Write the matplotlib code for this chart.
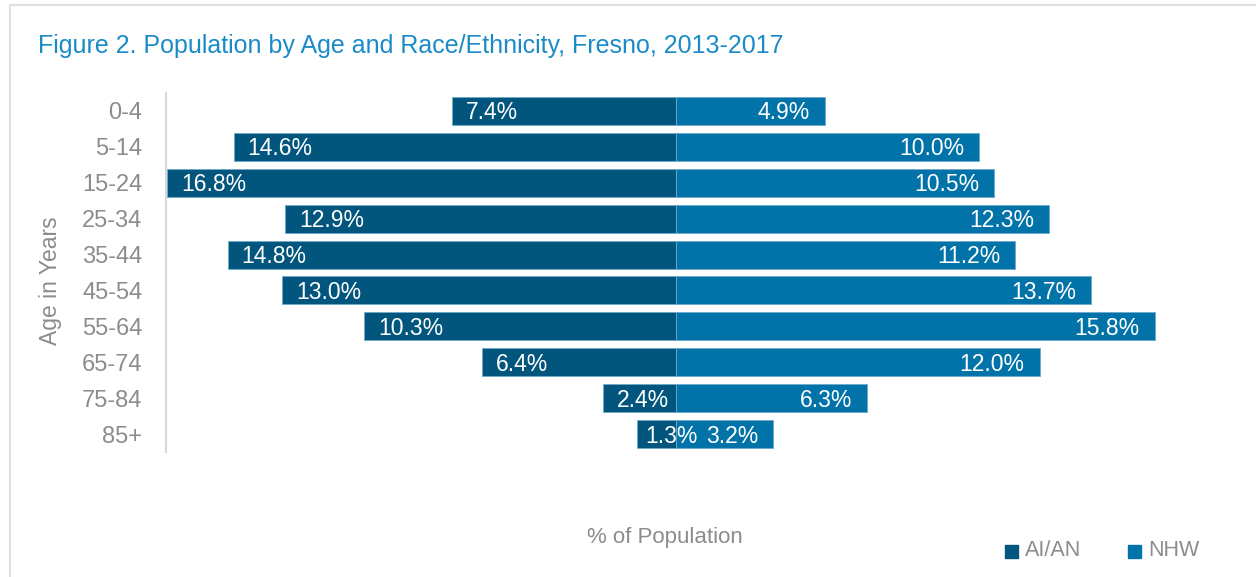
import matplotlib
matplotlib.use("Agg")
import matplotlib.pyplot as plt
from matplotlib.patches import Rectangle

age_groups = ["0-4", "5-14", "15-24", "25-34", "35-44", "45-54", "55-64", "65-74", "75-84", "85+"]
aian = [7.4, 14.6, 16.8, 12.9, 14.8, 13.0, 10.3, 6.4, 2.4, 1.3]
nhw = [4.9, 10.0, 10.5, 12.3, 11.2, 13.7, 15.8, 12.0, 6.3, 3.2]
series_names = ["AI/AN", "NHW"]

C_AIAN = "#02567D"
C_NHW = "#0173A8"
EDGE = "#6FA9CB"
GRAY = "#8C8C8C"
plt.rcParams["font.family"] = ["Liberation Sans", "DejaVu Sans"]

fig = plt.figure(figsize=(12.56, 5.77), dpi=100)
W, H = 1256, 577

# outer frame
fig.patches.append(Rectangle((10 / W, -0.1), 1.2, 1 - 5 / H + 0.1, transform=fig.transFigure,
                             fill=False, edgecolor="#E0E0E0", linewidth=1.5))

ax = fig.add_axes([166 / W, 1 - 452 / H, (1200 - 166) / W, (452 - 93) / H])
y = list(range(len(age_groups)))
ax.barh(y, [-v for v in aian], height=0.78, color=C_AIAN, edgecolor=EDGE, linewidth=0.6)
ax.barh(y, nhw, height=0.78, color=C_NHW, edgecolor=EDGE, linewidth=0.6)

for i, v in enumerate(aian):
    ax.annotate(f"{v:.1f}%", (-v, i), xytext=(14 if v > 2 else 9, -2), textcoords="offset pixels",
                ha="left", va="center", color="white", fontsize=16.5)
for i, v in enumerate(nhw):
    ax.annotate(f"{v:.1f}%", (v, i), xytext=(-15, -2), textcoords="offset pixels",
                ha="right", va="center", color="white", fontsize=16.5)

ax.set_xlim(-16.83, 17.29)
ax.set_ylim(9.5, -0.5)
ax.set_yticks(y)
ax.set_yticklabels(age_groups, fontsize=17, color=GRAY)
ax.tick_params(axis="y", length=0, pad=17)
ax.set_xticks([])
for s in ["top", "right", "bottom"]:
    ax.spines[s].set_visible(False)
ax.spines["left"].set_color("#D9D9D9")
ax.spines["left"].set_linewidth(1.5)

fig.text(38 / W, 1 - 46 / H, "Figure 2. Population by Age and Race/Ethnicity, Fresno, 2013-2017",
         color="#1B8BC8", fontsize=18, va="center", ha="left")
fig.text(50 / W, 1 - 281 / H, "Age in Years", rotation=90, color=GRAY, fontsize=16.5,
         ha="center", va="center")
fig.text(665 / W, 1 - 538 / H, "% of Population", color=GRAY, fontsize=16,
         ha="center", va="center")

# legend
for (x0, name, col) in [(1005, series_names[0], C_AIAN), (1128, series_names[1], C_NHW)]:
    fig.patches.append(Rectangle((x0 / W, 1 - 558 / H), 13 / W, 13 / H,
                                 transform=fig.transFigure, color=col))
    fig.text((x0 + 20) / W, 1 - 551 / H, name, color=GRAY, fontsize=15.5, ha="left", va="center")

fig.savefig("out.png", dpi=100)
